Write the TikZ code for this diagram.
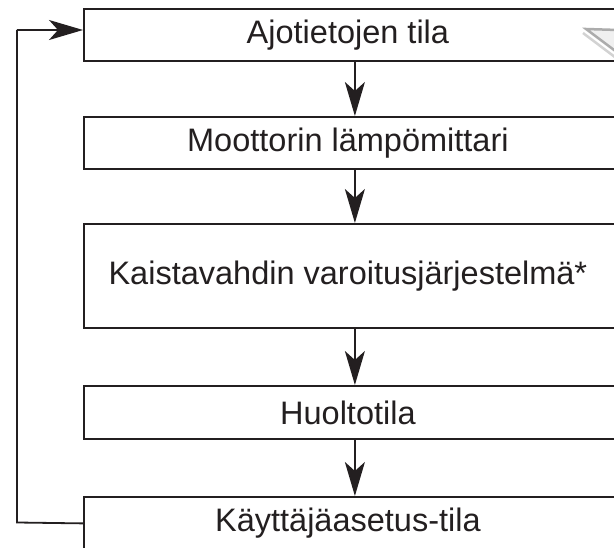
\documentclass[tikz,border=0pt]{standalone}
\usepackage{fontspec}
\setmainfont{Liberation Sans}
\usetikzlibrary{arrows.meta}
\definecolor{ink}{HTML}{231F20}
\tikzset{
  box/.style={draw=ink, line width=1.8pt, minimum width=542pt, inner sep=0pt, anchor=north west,
    font=\fontsize{32.5}{36}\selectfont, text=ink},
  arr/.style={draw=ink, line width=1.8pt, -{Stealth[length=34pt, width=20pt, inset=9pt]}},
  link/.style={draw=ink, line width=1.8pt}
}
\begin{document}
\begin{tikzpicture}[x=1pt, y=1pt]
\useasboundingbox (0,0) rectangle (614,547);
\clip (0,0) rectangle (614,547);
\fill[white] (0,0) rectangle (614,547);
% gray callout tip
\fill[gray!12] (586,518) -- (650,516) -- (650,470) -- cycle;
\draw[gray!35, line width=2.5pt] (583,514) -- (640,471);
\draw[gray!65, line width=2.5pt, line join=miter] (650,516) -- (586,518) -- (650,470);
% boxes
\node[box, minimum height=52pt] (b1) at (83,539) {\hspace*{-14pt}Ajotietojen tila};
\node[box, minimum height=52pt] (b2) at (83,431) {\hspace*{-14pt}Moottorin lämpömittari};
\node[box, minimum height=104pt] (b3) at (83,324) {\hspace*{-14pt}Kaistavahdin varoitusjärjestelmä*};
\node[box, minimum height=53pt] (b4) at (83,162) {\hspace*{-14pt}Huoltotila};
\node[box, minimum height=53pt] (b5) at (83,51) {\hspace*{-14pt}Käyttäjäasetus-tila};
% arrows
\draw[arr] (b1.south) -- (b2.north);
\draw[arr] (b2.south) -- (b3.north);
\draw[arr] (b3.south) -- (b4.north);
\draw[arr] (b4.south) -- (b5.north);
% loop
\coordinate (c1) at (17,24.5);
\coordinate (c2) at (17,517);
\draw[link] (b5.west) -- (c1) -- (c2);
\draw[arr] (c2) -- (b1.west |- c2);
\end{tikzpicture}
\end{document}
